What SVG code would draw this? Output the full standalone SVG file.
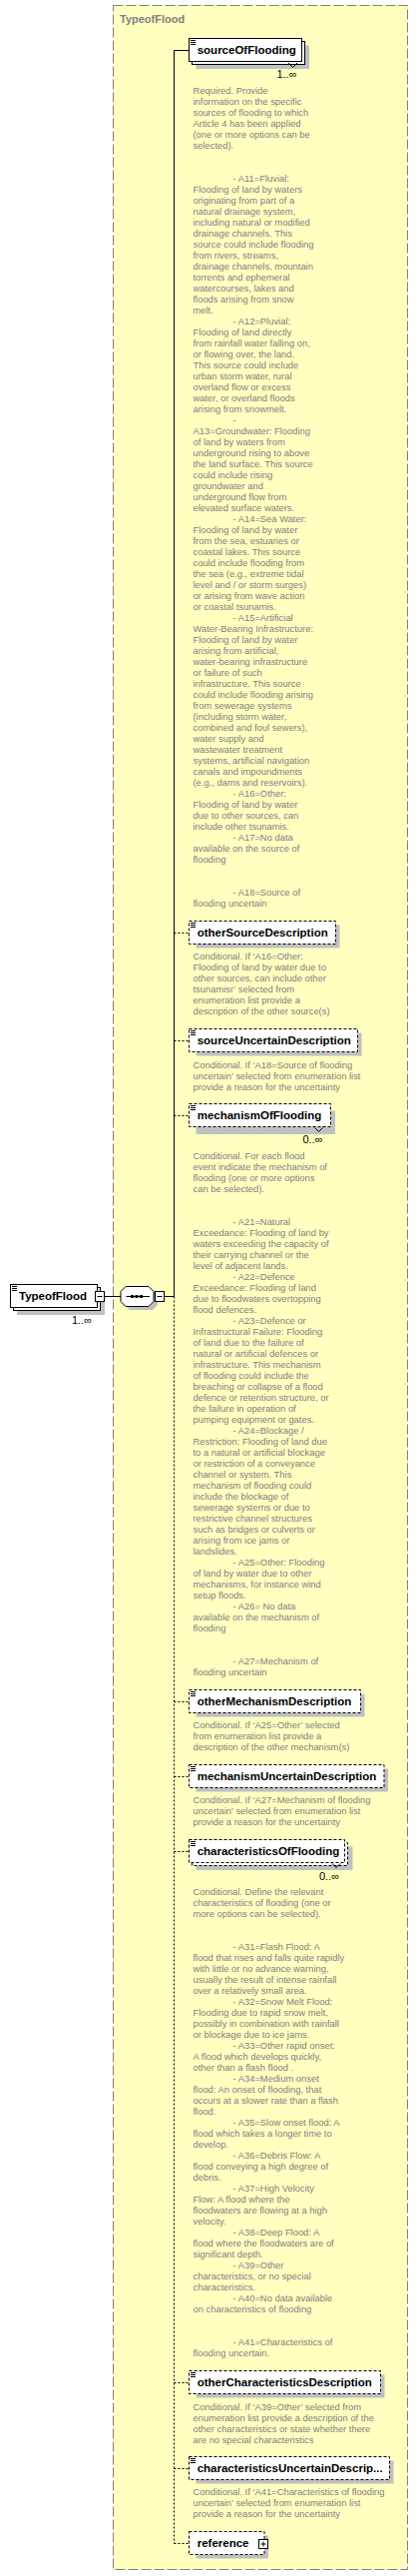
<svg xmlns="http://www.w3.org/2000/svg" width="419" height="2580" viewBox="0 0 419 2580">
<style>
.frame{fill:#FFFFC0;stroke:#808080;stroke-width:1;stroke-dasharray:10,3}
.title{font:bold 11px "Liberation Sans",Arial,sans-serif;fill:#808080}
.box{fill:#fff;stroke:#000;stroke-width:1}
.opt{stroke-dasharray:3,2}
.shadow{fill:#C0C0C0}
.name{font:bold 11.5px "Liberation Sans",Arial,sans-serif;fill:#000}
.doc{font:9.4px "Liberation Sans",Arial,sans-serif;fill:#808080}
.occ{font:11px "Liberation Sans",Arial,sans-serif;fill:#000}
.ln{stroke:#000;stroke-width:1;fill:none}
.dl{stroke-dasharray:2,2}
.icon{stroke:#000;stroke-width:1}
</style>
<rect class="frame" x="113.5" y="5.5" width="295" height="2568"/>
<text class="title" x="120" y="23">TypeofFlood</text>

<g id="connectors">
<line class="ln" x1="105" y1="1298.5" x2="121" y2="1298.5"/>
<line class="ln" x1="164.5" y1="1298.5" x2="174.5" y2="1298.5"/>
<line class="ln" x1="174.5" y1="50.5" x2="174.5" y2="1298.5"/>
<line class="ln dl" x1="174.5" y1="1298.5" x2="174.5" y2="2547.5"/>
<line class="ln" x1="174.5" y1="50.5" x2="189.5" y2="50.5"/>
<line class="ln dl" x1="174.5" y1="934.5" x2="189.5" y2="934.5"/>
<line class="ln dl" x1="174.5" y1="1042.5" x2="189.5" y2="1042.5"/>
<line class="ln dl" x1="174.5" y1="1117.5" x2="189.5" y2="1117.5"/>
<line class="ln dl" x1="174.5" y1="1704.5" x2="189.5" y2="1704.5"/>
<line class="ln dl" x1="174.5" y1="1779.5" x2="189.5" y2="1779.5"/>
<line class="ln dl" x1="174.5" y1="1854.5" x2="189.5" y2="1854.5"/>
<line class="ln dl" x1="174.5" y1="2386.5" x2="189.5" y2="2386.5"/>
<line class="ln dl" x1="174.5" y1="2472.5" x2="189.5" y2="2472.5"/>
<line class="ln dl" x1="174.5" y1="2547.5" x2="189.5" y2="2547.5"/>
</g>

<g id="TypeofFlood">
<rect class="shadow" x="17" y="1293" width="88" height="24"/>
<rect class="box" x="13.5" y="1289.5" width="87" height="23"/>
<rect class="box" x="10.5" y="1286.5" width="87" height="23"/>
<line class="icon" x1="12" y1="1288.5" x2="17" y2="1288.5"/>
<line class="icon" x1="12" y1="1290.5" x2="17" y2="1290.5"/>
<line class="icon" x1="12" y1="1292.5" x2="17" y2="1292.5"/>
<text class="name" x="19" y="1302">TypeofFlood</text>
<rect class="box" x="95.5" y="1293.5" width="9" height="10"/>
<line class="ln" x1="97.5" y1="1298.5" x2="102.5" y2="1298.5"/>
<text class="occ" x="92" y="1326" text-anchor="end">1..∞</text>
</g>

<g id="sequence">
<polygon class="shadow" points="130,1292 153,1292 158,1297 158,1307 153,1312 130,1312 125,1307 125,1297"/>
<polygon class="box" points="126,1288.5 149,1288.5 154,1293.5 154,1303.5 149,1308.5 126,1308.5 121,1303.5 121,1293.5"/>
<line class="ln" x1="126.5" y1="1298.5" x2="150" y2="1298.5"/>
<rect x="131" y="1297" width="3" height="3"/>
<rect x="135.5" y="1297" width="3" height="3"/>
<rect x="140" y="1297" width="3" height="3"/>
<rect class="box" x="155.5" y="1293.5" width="9" height="10"/>
<line class="ln" x1="157.5" y1="1298.5" x2="162.5" y2="1298.5"/>
</g>

<g id="sourceOfFlooding">
<rect class="shadow" x="196.5" y="45.5" width="113.5" height="23.5"/>
<rect class="box" x="192.5" y="41.5" width="113" height="23"/>
<rect class="box" x="189.5" y="38.5" width="113" height="23"/>
<line class="icon" x1="191" y1="40.5" x2="196" y2="40.5"/>
<line class="icon" x1="191" y1="42.5" x2="196" y2="42.5"/>
<line class="icon" x1="191" y1="44.5" x2="196" y2="44.5"/>
<text class="name" x="197.7" y="54">sourceOfFlooding</text>
<polyline class="ln" points="289,63 293.5,67.5 298,63"/>
<text class="occ" x="297.5" y="78" text-anchor="end">1..∞</text>
<text class="doc">
<tspan x="193.5" y="94.3">Required. Provide</tspan>
<tspan x="193.5" dy="11">information on the specific</tspan>
<tspan x="193.5" dy="11">sources of flooding to which</tspan>
<tspan x="193.5" dy="11">Article 4 has been applied</tspan>
<tspan x="193.5" dy="11">(one or more options can be</tspan>
<tspan x="193.5" dy="11">selected).</tspan>
<tspan x="233.5" dy="33">- A11=Fluvial:</tspan>
<tspan x="193.5" dy="11">Flooding of land by waters</tspan>
<tspan x="193.5" dy="11">originating from part of a</tspan>
<tspan x="193.5" dy="11">natural drainage system,</tspan>
<tspan x="193.5" dy="11">including natural or modified</tspan>
<tspan x="193.5" dy="11">drainage channels. This</tspan>
<tspan x="193.5" dy="11">source could include flooding</tspan>
<tspan x="193.5" dy="11">from rivers, streams,</tspan>
<tspan x="193.5" dy="11">drainage channels, mountain</tspan>
<tspan x="193.5" dy="11">torrents and ephemeral</tspan>
<tspan x="193.5" dy="11">watercourses, lakes and</tspan>
<tspan x="193.5" dy="11">floods arising from snow</tspan>
<tspan x="193.5" dy="11">melt.</tspan>
<tspan x="233.5" dy="11">- A12=Pluvial:</tspan>
<tspan x="193.5" dy="11">Flooding of land directly</tspan>
<tspan x="193.5" dy="11">from rainfall water falling on,</tspan>
<tspan x="193.5" dy="11">or flowing over, the land.</tspan>
<tspan x="193.5" dy="11">This source could include</tspan>
<tspan x="193.5" dy="11">urban storm water, rural</tspan>
<tspan x="193.5" dy="11">overland flow or excess</tspan>
<tspan x="193.5" dy="11">water, or overland floods</tspan>
<tspan x="193.5" dy="11">arising from snowmelt.</tspan>
<tspan x="233.5" dy="11">-</tspan>
<tspan x="193.5" dy="11">A13=Groundwater: Flooding</tspan>
<tspan x="193.5" dy="11">of land by waters from</tspan>
<tspan x="193.5" dy="11">underground rising to above</tspan>
<tspan x="193.5" dy="11">the land surface. This source</tspan>
<tspan x="193.5" dy="11">could include rising</tspan>
<tspan x="193.5" dy="11">groundwater and</tspan>
<tspan x="193.5" dy="11">underground flow from</tspan>
<tspan x="193.5" dy="11">elevated surface waters.</tspan>
<tspan x="233.5" dy="11">- A14=Sea Water:</tspan>
<tspan x="193.5" dy="11">Flooding of land by water</tspan>
<tspan x="193.5" dy="11">from the sea, estuaries or</tspan>
<tspan x="193.5" dy="11">coastal lakes. This source</tspan>
<tspan x="193.5" dy="11">could include flooding from</tspan>
<tspan x="193.5" dy="11">the sea (e.g., extreme tidal</tspan>
<tspan x="193.5" dy="11">level and / or storm surges)</tspan>
<tspan x="193.5" dy="11">or arising from wave action</tspan>
<tspan x="193.5" dy="11">or coastal tsunamis.</tspan>
<tspan x="233.5" dy="11">- A15=Artificial</tspan>
<tspan x="193.5" dy="11">Water-Bearing Infrastructure:</tspan>
<tspan x="193.5" dy="11">Flooding of land by water</tspan>
<tspan x="193.5" dy="11">arising from artificial,</tspan>
<tspan x="193.5" dy="11">water-bearing infrastructure</tspan>
<tspan x="193.5" dy="11">or failure of such</tspan>
<tspan x="193.5" dy="11">infrastructure. This source</tspan>
<tspan x="193.5" dy="11">could include flooding arising</tspan>
<tspan x="193.5" dy="11">from sewerage systems</tspan>
<tspan x="193.5" dy="11">(including storm water,</tspan>
<tspan x="193.5" dy="11">combined and foul sewers),</tspan>
<tspan x="193.5" dy="11">water supply and</tspan>
<tspan x="193.5" dy="11">wastewater treatment</tspan>
<tspan x="193.5" dy="11">systems, artificial navigation</tspan>
<tspan x="193.5" dy="11">canals and impoundments</tspan>
<tspan x="193.5" dy="11">(e.g., dams and reservoirs).</tspan>
<tspan x="233.5" dy="11">- A16=Other:</tspan>
<tspan x="193.5" dy="11">Flooding of land by water</tspan>
<tspan x="193.5" dy="11">due to other sources, can</tspan>
<tspan x="193.5" dy="11">include other tsunamis.</tspan>
<tspan x="233.5" dy="11">- A17=No data</tspan>
<tspan x="193.5" dy="11">available on the source of</tspan>
<tspan x="193.5" dy="11">flooding</tspan>
<tspan x="233.5" dy="33">- A18=Source of</tspan>
<tspan x="193.5" dy="11">flooding uncertain</tspan>
</text>
</g>

<g id="otherSourceDescription">
<rect class="shadow" x="196.5" y="926.5" width="144" height="23"/>
<rect class="box opt" x="189.5" y="922.5" width="147" height="23"/>
<line class="icon" x1="191" y1="924.5" x2="196" y2="924.5"/>
<line class="icon" x1="191" y1="926.5" x2="196" y2="926.5"/>
<line class="icon" x1="191" y1="928.5" x2="196" y2="928.5"/>
<text class="name" x="197.7" y="938.3">otherSourceDescription</text>
<text class="doc">
<tspan x="193.5" y="961">Conditional. If ‘A16=Other:</tspan>
<tspan x="193.5" dy="11">Flooding of land by water due to</tspan>
<tspan x="193.5" dy="11">other sources, can include other</tspan>
<tspan x="193.5" dy="11">tsunamisr’ selected from</tspan>
<tspan x="193.5" dy="11">enumeration list provide a</tspan>
<tspan x="193.5" dy="11">description of the other source(s)</tspan>
</text>
</g>

<g id="sourceUncertainDescription">
<rect class="shadow" x="196.5" y="1034.5" width="166" height="23"/>
<rect class="box opt" x="189.5" y="1030.5" width="169" height="23"/>
<line class="icon" x1="191" y1="1032.5" x2="196" y2="1032.5"/>
<line class="icon" x1="191" y1="1034.5" x2="196" y2="1034.5"/>
<line class="icon" x1="191" y1="1036.5" x2="196" y2="1036.5"/>
<text class="name" x="197.7" y="1046.2">sourceUncertainDescription</text>
<text class="doc">
<tspan x="193.5" y="1069.5">Conditional. If ‘A18=Source of flooding</tspan>
<tspan x="193.5" dy="11">uncertain’ selected from enumeration list</tspan>
<tspan x="193.5" dy="11">provide a reason for the uncertainty</tspan>
</text>
</g>

<g id="mechanismOfFlooding">
<rect class="shadow" x="196.5" y="1112.5" width="139.5" height="23.5"/>
<rect class="box opt" x="189.5" y="1105.5" width="142" height="23"/>
<line class="icon" x1="191" y1="1107.5" x2="196" y2="1107.5"/>
<line class="icon" x1="191" y1="1109.5" x2="196" y2="1109.5"/>
<line class="icon" x1="191" y1="1111.5" x2="196" y2="1111.5"/>
<text class="name" x="197.7" y="1121.2">mechanismOfFlooding</text>
<polyline class="ln" points="315.5,1129.5 319.5,1133.5 323.5,1129.5"/>
<text class="occ" x="323.5" y="1145" text-anchor="end">0..∞</text>
<text class="doc">
<tspan x="193.5" y="1161">Conditional. For each flood</tspan>
<tspan x="193.5" dy="11">event indicate the mechanism of</tspan>
<tspan x="193.5" dy="11">flooding (one or more options</tspan>
<tspan x="193.5" dy="11">can be selected).</tspan>
<tspan x="233.5" dy="33">- A21=Natural</tspan>
<tspan x="193.5" dy="11">Exceedance: Flooding of land by</tspan>
<tspan x="193.5" dy="11">waters exceeding the capacity of</tspan>
<tspan x="193.5" dy="11">their carrying channel or the</tspan>
<tspan x="193.5" dy="11">level of adjacent lands.</tspan>
<tspan x="233.5" dy="11">- A22=Defence</tspan>
<tspan x="193.5" dy="11">Exceedance: Flooding of land</tspan>
<tspan x="193.5" dy="11">due to floodwaters overtopping</tspan>
<tspan x="193.5" dy="11">flood defences.</tspan>
<tspan x="233.5" dy="11">- A23=Defence or</tspan>
<tspan x="193.5" dy="11">Infrastructural Failure: Flooding</tspan>
<tspan x="193.5" dy="11">of land due to the failure of</tspan>
<tspan x="193.5" dy="11">natural or artificial defences or</tspan>
<tspan x="193.5" dy="11">infrastructure. This mechanism</tspan>
<tspan x="193.5" dy="11">of flooding could include the</tspan>
<tspan x="193.5" dy="11">breaching or collapse of a flood</tspan>
<tspan x="193.5" dy="11">defence or retention structure, or</tspan>
<tspan x="193.5" dy="11">the failure in operation of</tspan>
<tspan x="193.5" dy="11">pumping equipment or gates.</tspan>
<tspan x="233.5" dy="11">- A24=Blockage /</tspan>
<tspan x="193.5" dy="11">Restriction: Flooding of land due</tspan>
<tspan x="193.5" dy="11">to a natural or artificial blockage</tspan>
<tspan x="193.5" dy="11">or restriction of a conveyance</tspan>
<tspan x="193.5" dy="11">channel or system. This</tspan>
<tspan x="193.5" dy="11">mechanism of flooding could</tspan>
<tspan x="193.5" dy="11">include the blockage of</tspan>
<tspan x="193.5" dy="11">sewerage systems or due to</tspan>
<tspan x="193.5" dy="11">restrictive channel structures</tspan>
<tspan x="193.5" dy="11">such as bridges or culverts or</tspan>
<tspan x="193.5" dy="11">arising from ice jams or</tspan>
<tspan x="193.5" dy="11">landslides.</tspan>
<tspan x="233.5" dy="11">- A25=Other: Flooding</tspan>
<tspan x="193.5" dy="11">of land by water due to other</tspan>
<tspan x="193.5" dy="11">mechanisms, for instance wind</tspan>
<tspan x="193.5" dy="11">setup floods.</tspan>
<tspan x="233.5" dy="11">- A26= No data</tspan>
<tspan x="193.5" dy="11">available on the mechanism of</tspan>
<tspan x="193.5" dy="11">flooding</tspan>
<tspan x="233.5" dy="33">- A27=Mechanism of</tspan>
<tspan x="193.5" dy="11">flooding uncertain</tspan>
</text>
</g>

<g id="otherMechanismDescription">
<rect class="shadow" x="196.5" y="1696.5" width="169" height="23"/>
<rect class="box opt" x="189.5" y="1692.5" width="172" height="23"/>
<line class="icon" x1="191" y1="1694.5" x2="196" y2="1694.5"/>
<line class="icon" x1="191" y1="1696.5" x2="196" y2="1696.5"/>
<line class="icon" x1="191" y1="1698.5" x2="196" y2="1698.5"/>
<text class="name" x="197.7" y="1708.2">otherMechanismDescription</text>
<text class="doc">
<tspan x="193.5" y="1731">Conditional. If ‘A25=Other’ selected</tspan>
<tspan x="193.5" dy="11">from enumeration list provide a</tspan>
<tspan x="193.5" dy="11">description of the other mechanism(s)</tspan>
</text>
</g>

<g id="mechanismUncertainDescription">
<rect class="shadow" x="196.5" y="1771.5" width="192.5" height="23"/>
<rect class="box opt" x="189.5" y="1767.5" width="195.5" height="23"/>
<line class="icon" x1="191" y1="1769.5" x2="196" y2="1769.5"/>
<line class="icon" x1="191" y1="1771.5" x2="196" y2="1771.5"/>
<line class="icon" x1="191" y1="1773.5" x2="196" y2="1773.5"/>
<text class="name" x="197.7" y="1783.2">mechanismUncertainDescription</text>
<text class="doc">
<tspan x="193.5" y="1806">Conditional. If ‘A27=Mechanism of flooding</tspan>
<tspan x="193.5" dy="11">uncertain’ selected from enumeration list</tspan>
<tspan x="193.5" dy="11">provide a reason for the uncertainty</tspan>
</text>
</g>

<g id="characteristicsOfFlooding">
<rect class="shadow" x="196.5" y="1849.5" width="157" height="23.5"/>
<rect class="box opt" x="192.5" y="1845.5" width="156" height="23"/>
<rect class="box opt" x="189.5" y="1842.5" width="156" height="23"/>
<line class="icon" x1="191" y1="1844.5" x2="196" y2="1844.5"/>
<line class="icon" x1="191" y1="1846.5" x2="196" y2="1846.5"/>
<line class="icon" x1="191" y1="1848.5" x2="196" y2="1848.5"/>
<text class="name" x="197.7" y="1858.2">characteristicsOfFlooding</text>
<polyline class="ln" points="333,1866.5 337,1870.5 341,1866.5"/>
<text class="occ" x="340" y="1883" text-anchor="end">0..∞</text>
<text class="doc">
<tspan x="193.5" y="1898">Conditional. Define the relevant</tspan>
<tspan x="193.5" dy="11">characteristics of flooding (one or</tspan>
<tspan x="193.5" dy="11">more options can be selected).</tspan>
<tspan x="233.5" dy="33">- A31=Flash Flood: A</tspan>
<tspan x="193.5" dy="11">flood that rises and falls quite rapidly</tspan>
<tspan x="193.5" dy="11">with little or no advance warning,</tspan>
<tspan x="193.5" dy="11">usually the result of intense rainfall</tspan>
<tspan x="193.5" dy="11">over a relatively small area.</tspan>
<tspan x="233.5" dy="11">- A32=Snow Melt Flood:</tspan>
<tspan x="193.5" dy="11">Flooding due to rapid snow melt,</tspan>
<tspan x="193.5" dy="11">possibly in combination with rainfall</tspan>
<tspan x="193.5" dy="11">or blockage due to ice jams.</tspan>
<tspan x="233.5" dy="11">- A33=Other rapid onset:</tspan>
<tspan x="193.5" dy="11">A flood which develops quickly,</tspan>
<tspan x="193.5" dy="11">other than a flash flood .</tspan>
<tspan x="233.5" dy="11">- A34=Medium onset</tspan>
<tspan x="193.5" dy="11">flood: An onset of flooding, that</tspan>
<tspan x="193.5" dy="11">occurs at a slower rate than a flash</tspan>
<tspan x="193.5" dy="11">flood.</tspan>
<tspan x="233.5" dy="11">- A35=Slow onset flood: A</tspan>
<tspan x="193.5" dy="11">flood which takes a longer time to</tspan>
<tspan x="193.5" dy="11">develop.</tspan>
<tspan x="233.5" dy="11">- A36=Debris Flow: A</tspan>
<tspan x="193.5" dy="11">flood conveying a high degree of</tspan>
<tspan x="193.5" dy="11">debris.</tspan>
<tspan x="233.5" dy="11">- A37=High Velocity</tspan>
<tspan x="193.5" dy="11">Flow: A flood where the</tspan>
<tspan x="193.5" dy="11">floodwaters are flowing at a high</tspan>
<tspan x="193.5" dy="11">velocity.</tspan>
<tspan x="233.5" dy="11">- A38=Deep Flood: A</tspan>
<tspan x="193.5" dy="11">flood where the floodwaters are of</tspan>
<tspan x="193.5" dy="11">significant depth.</tspan>
<tspan x="233.5" dy="11">- A39=Other</tspan>
<tspan x="193.5" dy="11">characteristics, or no special</tspan>
<tspan x="193.5" dy="11">characteristics.</tspan>
<tspan x="233.5" dy="11">- A40=No data available</tspan>
<tspan x="193.5" dy="11">on characteristics of flooding</tspan>
<tspan x="233.5" dy="33">- A41=Characteristics of</tspan>
<tspan x="193.5" dy="11">flooding uncertain.</tspan>
</text>
</g>

<g id="otherCharacteristicsDescription">
<rect class="shadow" x="196.5" y="2378.5" width="189" height="23"/>
<rect class="box opt" x="189.5" y="2374.5" width="192" height="23"/>
<line class="icon" x1="191" y1="2376.5" x2="196" y2="2376.5"/>
<line class="icon" x1="191" y1="2378.5" x2="196" y2="2378.5"/>
<line class="icon" x1="191" y1="2380.5" x2="196" y2="2380.5"/>
<text class="name" x="197.7" y="2390.2">otherCharacteristicsDescription</text>
<text class="doc">
<tspan x="193.5" y="2413.5">Conditional. If ‘A39=Other’ selected from</tspan>
<tspan x="193.5" dy="11">enumeration list provide a description of the</tspan>
<tspan x="193.5" dy="11">other characteristics or state whether there</tspan>
<tspan x="193.5" dy="11">are no special characteristics</tspan>
</text>
</g>

<g id="characteristicsUncertainDescription">
<rect class="shadow" x="196.5" y="2464.5" width="198" height="23"/>
<rect class="box opt" x="189.5" y="2460.5" width="201" height="23"/>
<line class="icon" x1="191" y1="2462.5" x2="196" y2="2462.5"/>
<line class="icon" x1="191" y1="2464.5" x2="196" y2="2464.5"/>
<line class="icon" x1="191" y1="2466.5" x2="196" y2="2466.5"/>
<text class="name" x="197.7" y="2476.2">characteristicsUncertainDescrip...</text>
<text class="doc">
<tspan x="193.5" y="2499">Conditional. If ‘A41=Characteristics of flooding</tspan>
<tspan x="193.5" dy="11">uncertain’ selected from enumeration list</tspan>
<tspan x="193.5" dy="11">provide a reason for the uncertainty</tspan>
</text>
</g>

<g id="reference">
<rect class="shadow" x="196.5" y="2539.5" width="72.5" height="23"/>
<rect class="box opt" x="189.5" y="2535.5" width="75.5" height="23"/>
<text class="name" x="197.7" y="2551.2">reference</text>
<rect class="box" x="259.5" y="2543.5" width="9" height="9"/>
<line class="ln" x1="261.5" y1="2548" x2="266.5" y2="2548"/>
<line class="ln" x1="264" y1="2545.5" x2="264" y2="2550.5"/>
</g>
</svg>
